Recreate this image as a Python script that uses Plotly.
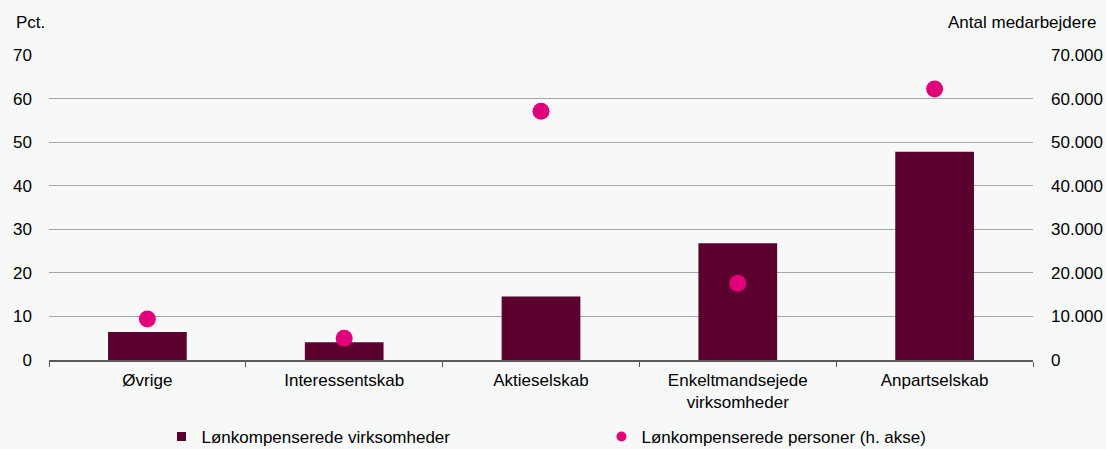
import plotly.graph_objects as go

# Virksomhedsformer og lønkompensation
categories = ["Øvrige", "Interessentskab", "Aktieselskab",
              "Enkeltmandsejede<br>virksomheder", "Anpartselskab"]
virksomheder_pct = [6.4, 4.1, 14.6, 26.8, 47.8]
personer_antal = [9400, 5000, 57100, 17600, 62200]

left_ticks = [0, 10, 20, 30, 40, 50, 60, 70]
right_ticks = [0, 10000, 20000, 30000, 40000, 50000, 60000, 70000]

NAME_BAR = "Lønkompenserede virksomheder"
NAME_DOT = "Lønkompenserede personer (h. akse)"

FONT = "Liberation Sans, Arial, sans-serif"
FS = 17
BAR_COLOR = "#5c0030"
DOT_COLOR = "#e2007a"
BG = "#f7f8f8"

fig = go.Figure()
fig.add_trace(go.Bar(
    x=categories, y=virksomheder_pct, name=NAME_BAR,
    marker=dict(color=BAR_COLOR, line=dict(width=0)),
    width=0.4, yaxis="y", showlegend=False,
))
fig.add_trace(go.Scatter(
    x=categories, y=personer_antal, name=NAME_DOT,
    mode="markers", marker=dict(color=DOT_COLOR, size=17),
    yaxis="y2", showlegend=False,
))

# Legend entries with small symbols
fig.add_trace(go.Scatter(
    x=[None], y=[None], name=NAME_BAR, mode="markers",
    marker=dict(color=BAR_COLOR, size=9, symbol="square"),
    yaxis="y", showlegend=True,
))
fig.add_trace(go.Scatter(
    x=[None], y=[None], name=NAME_DOT, mode="markers",
    marker=dict(color=DOT_COLOR, size=10, symbol="circle"),
    yaxis="y2", showlegend=True,
))

fig.update_layout(
    width=1106, height=449,
    margin=dict(l=49, r=73, t=55, b=89, autoexpand=False),
    paper_bgcolor=BG, plot_bgcolor=BG,
    font=dict(family=FONT, size=FS, color="#000000"),
    separators=",.",
    showlegend=True,
    legend=dict(
        orientation="h", xref="container", yref="container",
        x=0.146, y=0.027, xanchor="left", yanchor="middle",
        entrywidth=395, entrywidthmode="pixels",
        itemwidth=30, font=dict(size=FS), bgcolor="rgba(0,0,0,0)",
        traceorder="normal",
    ),
    xaxis=dict(
        type="category", automargin=False,
        showgrid=False, showline=True, linecolor="#595959", linewidth=1.5,
        ticks="outside", tickson="boundaries", ticklen=5,
        tickcolor="#595959", tickwidth=1,
        ticklabelstandoff=4,
        tickfont=dict(size=FS),
    ),
    yaxis=dict(
        range=[0, 70], tickvals=left_ticks, automargin=False,
        showgrid=True, gridcolor="#a6a6a6", gridwidth=1,
        zeroline=False, showline=False, ticks="",
        ticklabelstandoff=16, tickfont=dict(size=FS),
    ),
    yaxis2=dict(
        range=[0, 70000], tickvals=right_ticks, tickformat=",d",
        overlaying="y", side="right", automargin=False,
        showgrid=False, zeroline=False, showline=False, ticks="",
        ticklabelstandoff=17, tickfont=dict(size=FS),
    ),
    annotations=[
        dict(text="Pct.", xref="paper", yref="paper", x=0, y=1,
             xshift=-35, yshift=33, xanchor="left", yanchor="middle",
             showarrow=False, font=dict(size=FS)),
        dict(text="Antal medarbejdere", xref="paper", yref="paper", x=1, y=1,
             xshift=65, yshift=33, xanchor="right", yanchor="middle",
             showarrow=False, font=dict(size=FS)),
    ],
)

fig.write_html("out.html")
